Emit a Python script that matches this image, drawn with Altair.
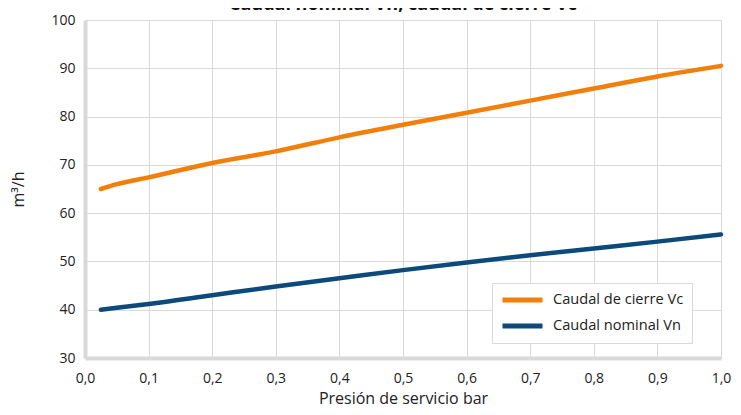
import altair as alt
import pandas as pd

x_vals = [0.025, 0.05, 0.1, 0.2, 0.3, 0.4, 0.5, 0.6, 0.7, 0.8, 0.9, 1.0]
vc_vals = [65.0, 66.0, 67.4, 70.4, 72.8, 75.7, 78.3, 80.8, 83.3, 85.8, 88.3, 90.5]
vn_vals = [40.0, 40.4, 41.2, 43.0, 44.8, 46.5, 48.2, 49.8, 51.3, 52.7, 54.1, 55.6]
series_names = ["Caudal de cierre Vc", "Caudal nominal Vn"]
colors = ["#F27F0C", "#0B4A7B"]

rows = []
for xv, a, b in zip(x_vals, vc_vals, vn_vals):
    rows.append({"p": xv, "v": a, "s": series_names[0]})
    rows.append({"p": xv, "v": b, "s": series_names[1]})
df = pd.DataFrame(rows)

font = "Open Sans"

chart = alt.Chart(df).mark_line(strokeWidth=4.5, strokeCap="round", interpolate="monotone").encode(
    x=alt.X("p:Q", title="Presión de servicio bar",
            scale=alt.Scale(domain=[0, 1.0], nice=False, zero=False),
            axis=alt.Axis(values=[i / 10 for i in range(11)],
                          labelExpr="replace(format(datum.value, '.1f'), '.', ',')",
                          grid=True, gridColor="#D9D9D9", gridWidth=1,
                          domainColor="#D9D9D9", domainWidth=4,
                          ticks=False, labelPadding=13, labelFlush=False,
                          labelFont=font, labelFontSize=14, labelColor="#222222",
                          titleFont=font, titleFontSize=16, titleFontWeight="normal",
                          titleColor="#222222", titlePadding=5)),
    y=alt.Y("v:Q", title="m³/h",
            scale=alt.Scale(domain=[30, 100], nice=False, zero=False),
            axis=alt.Axis(values=list(range(30, 101, 10)),
                          grid=True, gridColor="#D9D9D9", gridWidth=1,
                          domainColor="#D9D9D9", domainWidth=4,
                          ticks=False, labelPadding=10, labelFlush=False,
                          labelFont=font, labelFontSize=14, labelColor="#222222",
                          titleFont=font, titleFontSize=16, titleFontWeight="normal",
                          titleColor="#222222", titlePadding=24)),
    color=alt.Color("s:N", scale=alt.Scale(domain=series_names, range=colors),
                    legend=alt.Legend(title=None, orient="none", legendX=407, legendY=263,
                                      symbolType="stroke", symbolStrokeWidth=5,
                                      symbolSize=1600, clipHeight=18,
                                      labelFont=font, labelFontSize=14.6,
                                      labelColor="#222222", fillColor="white",
                                      strokeColor="#D9D9D9", padding=8,
                                      rowPadding=8, labelOffset=8)),
).properties(
    width=636, height=338,
    title=alt.TitleParams("Caudal nominal Vn, caudal de cierre Vc", font=font, fontSize=18,
                          fontWeight="bold", color="#111111", anchor="middle", offset=-1),
    padding={"left": 77, "top": 12, "right": 12, "bottom": 49},
    autosize=alt.AutoSizeParams(type="none"),
).configure_view(stroke=None)

chart.save("out.html", embed_options={"renderer": "svg", "actions": False})
